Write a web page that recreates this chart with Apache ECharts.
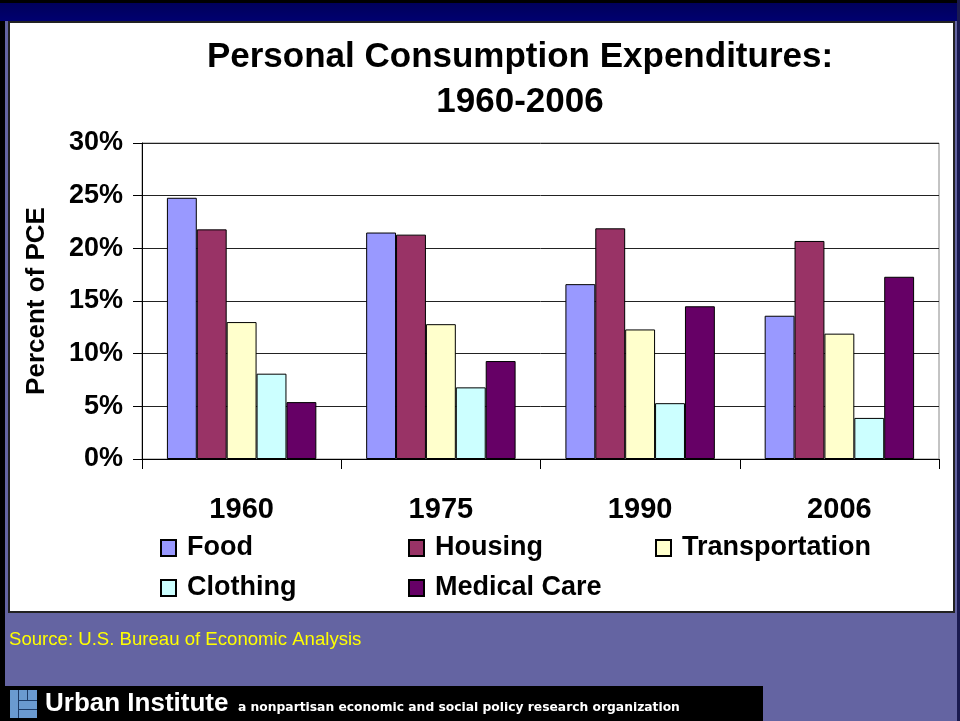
<!DOCTYPE html>
<html>
<head>
<meta charset="utf-8">
<title>Personal Consumption Expenditures: 1960-2006</title>
<script src="https://cdn.jsdelivr.net/npm/echarts@6.0.0/dist/echarts.min.js"></script>
<style>
  html, body { margin: 0; padding: 0; }
  #slide { position: relative; width: 960px; height: 721px; background: #6464a2; overflow: hidden; }
  .blk { position: absolute; }
  #chart { position: absolute; left: 0; top: 0; width: 960px; height: 721px; }
</style>
</head>
<body>
<div id="slide">
  <div class="blk" style="left:0;top:0;width:5px;height:721px;background:#000;"></div>
  <div class="blk" style="left:0;top:0;width:960px;height:21px;background:linear-gradient(#00005a,#000070);border-top:3px solid #000;box-sizing:border-box;"></div>
  <div class="blk" style="left:957px;top:0;width:3px;height:721px;background:#1a1a50;"></div>
  <div class="blk" style="left:8px;top:21px;width:947px;height:592px;background:#fff;border:2px solid #222;box-sizing:border-box;"></div>
  <div class="blk" style="left:0;top:686px;width:763px;height:35px;background:#000;"></div>
  <!-- logo blocks -->
  <div class="blk" style="left:10px;top:690px;width:27px;height:28px;background:#6a9ad0;"></div>
  <div class="blk" style="left:18px;top:690px;width:1px;height:28px;background:#1c3a66;"></div>
  <div class="blk" style="left:18px;top:700px;width:19px;height:1px;background:#1c3a66;"></div>
  <div class="blk" style="left:27px;top:690px;width:1px;height:11px;background:#1c3a66;"></div>
  <div class="blk" style="left:18px;top:709px;width:19px;height:1px;background:#1c3a66;"></div>
  <div id="chart"></div>
</div>
<script>
const years = ['1960', '1975', '1990', '2006'];
const seriesNames = ['Food', 'Housing', 'Transportation', 'Clothing', 'Medical Care'];
const food = [24.8, 21.5, 16.6, 13.6];
const housing = [21.8, 21.3, 21.9, 20.7];
const transportation = [13.0, 12.8, 12.3, 11.9];
const clothing = [8.1, 6.8, 5.3, 3.9];
const medicalCare = [5.4, 9.3, 14.5, 17.3];
const yTicks = [0, 5, 10, 15, 20, 25, 30];

const colors = ['#9999ff', '#993366', '#ffffcc', '#ccffff', '#660066'];
const values = [food, housing, transportation, clothing, medicalCare];
const FONT = '"Liberation Sans", Arial, sans-serif';

// legend slots: [left, top]
const legendPos = [[160, 533], [408, 533], [655, 533], [160, 573], [408, 573]];

const chart = echarts.init(document.getElementById('chart'), null, { renderer: 'canvas' });

chart.setOption({
  backgroundColor: 'transparent',
  animation: false,
  textStyle: { fontFamily: FONT },
  grid: { left: 142, top: 143, right: 21, bottom: 262, show: true, borderColor: '#888', borderWidth: 1, outerBoundsMode: 'none' },
  xAxis: {
    type: 'category',
    data: years,
    axisLine: { lineStyle: { color: '#000', width: 1 } },
    axisTick: { show: true, length: 10, lineStyle: { color: '#000' } },
    axisLabel: { fontSize: 29, fontWeight: 'bold', color: '#000', margin: 36, fontFamily: FONT }
  },
  yAxis: {
    type: 'value',
    min: yTicks[0],
    max: yTicks[yTicks.length - 1],
    interval: 5,
    name: 'Percent of PCE',
    nameLocation: 'middle',
    nameGap: 92,
    nameTextStyle: { fontSize: 26, fontWeight: 'bold', color: '#000', fontFamily: FONT },
    axisLine: { show: true, lineStyle: { color: '#000', width: 1 } },
    axisTick: { show: true, length: 9, lineStyle: { color: '#000' } },
    axisLabel: { formatter: '{value}%', fontSize: 27, fontWeight: 'bold', color: '#000', margin: 19, fontFamily: FONT },
    splitLine: { lineStyle: { color: '#222', width: 1 } }
  },
  legend: seriesNames.map((name, i) => ({
    data: [name],
    left: legendPos[i][0],
    top: legendPos[i][1],
    padding: 0,
    itemWidth: 15,
    itemHeight: 16,
    icon: 'rect',
    selectedMode: false,
    textStyle: { fontSize: 27, fontWeight: 'bold', color: '#000', lineHeight: 30, fontFamily: FONT, padding: [0, 0, 0, 6] }
  })),
  series: seriesNames.map((name, i) => ({
    name: name,
    type: 'bar',
    data: values[i],
    barGap: '0%',
    barCategoryGap: '25%',
    itemStyle: { color: colors[i], borderColor: '#000', borderWidth: 1 }
  })),
  graphic: [
    {
      type: 'text',
      x: 520, y: 80,
      style: {
        text: 'Personal Consumption Expenditures:\n1960-2006',
        fill: '#000',
        font: 'bold 35px ' + FONT,
        align: 'center',
        verticalAlign: 'middle',
        lineHeight: 45
      }
    },
    {
      type: 'text',
      x: 9, y: 640,
      style: {
        text: 'Source: U.S. Bureau of Economic Analysis',
        fill: '#ffff00',
        font: '18.6px ' + FONT,
        verticalAlign: 'middle'
      }
    },
    {
      type: 'text',
      x: 45, y: 704,
      style: {
        text: 'Urban Institute',
        fill: '#fff',
        font: 'bold 26px ' + FONT,
        verticalAlign: 'middle'
      }
    },
    {
      type: 'text',
      x: 238, y: 708,
      style: {
        text: 'a nonpartisan economic and social policy research organization',
        fill: '#fff',
        font: 'bold 12.3px "DejaVu Sans", sans-serif',
        verticalAlign: 'middle'
      }
    }
  ]
});

window.addEventListener('resize', () => chart.resize());
</script>
</body>
</html>
